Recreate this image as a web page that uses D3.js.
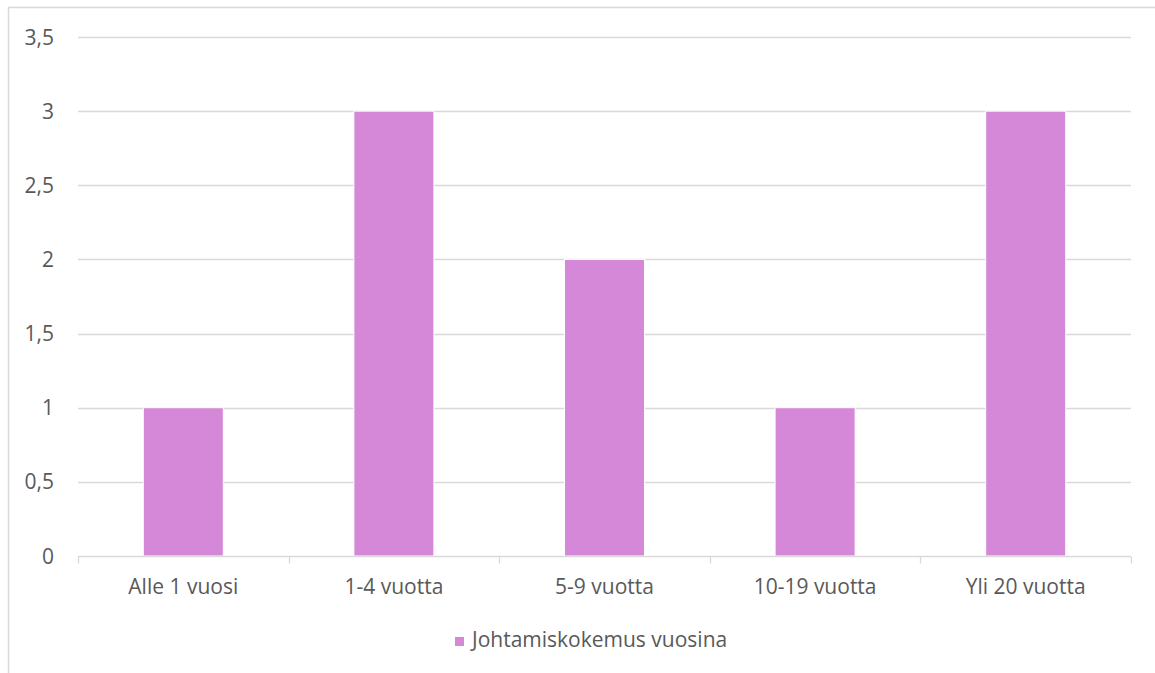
<!DOCTYPE html>
<html>
<head>
<meta charset="utf-8">
<script src="https://cdn.jsdelivr.net/npm/d3@7"></script>
<style>
  html, body { margin: 0; padding: 0; background: #fff; }
  svg { display: block; }
  text { font-family: "Open Sans", "Liberation Sans", sans-serif; fill: #595959; }
</style>
</head>
<body>
<svg id="chart" width="1155" height="673"></svg>
<script>
// Chart data
const categories = ["Alle 1 vuosi", "1-4 vuotta", "5-9 vuotta", "10-19 vuotta", "Yli 20 vuotta"];
const values = [1, 3, 2, 1, 3];
const seriesName = "Johtamiskokemus vuosina";
const yTicks = [0, 0.5, 1, 1.5, 2, 2.5, 3, 3.5];

const W = 1155, H = 673;
const margin = { left: 78, right: 24, top: 37, bottom: 117 };
const barColor = "#D588D8";
const fontSize = 21;

const svg = d3.select("#chart");

// chart area frame
svg.append("rect")
  .attr("x", 8.5).attr("y", 7.5)
  .attr("width", 1160).attr("height", 700)
  .attr("fill", "#fff").attr("stroke", "#d9d9d9").attr("stroke-width", 1.5);

const x = d3.scaleBand()
  .domain(categories)
  .range([margin.left, W - margin.right])
  .paddingInner(0.62).paddingOuter(0.31);

const y = d3.scaleLinear()
  .domain([0, 3.5])
  .range([H - margin.bottom, margin.top]);

// gridlines
svg.append("g")
  .selectAll("line")
  .data(yTicks.filter(d => d > 0))
  .join("line")
  .attr("x1", margin.left).attr("x2", W - margin.right)
  .attr("y1", d => Math.round(y(d)) + 0.5).attr("y2", d => Math.round(y(d)) + 0.5)
  .attr("stroke", "#d9d9d9").attr("stroke-width", 1.3);

// y axis labels
const yAxis = d3.axisLeft(y)
  .tickValues(yTicks)
  .tickSize(0)
  .tickPadding(0)
  .tickFormat(d => String(d).replace(".", ","));
const gy = svg.append("g")
  .attr("transform", `translate(${margin.left - 24},0)`)
  .call(yAxis);
gy.select(".domain").remove();
gy.selectAll("text")
  .attr("font-size", fontSize)
  .attr("font-family", null)
  .attr("fill", "#595959")
  .attr("dy", "0.34em");

// bars
svg.append("g")
  .selectAll("rect")
  .data(values)
  .join("rect")
  .attr("x", (d, i) => x(categories[i]))
  .attr("y", d => y(d))
  .attr("width", x.bandwidth())
  .attr("height", d => y(0) - y(d))
  .attr("fill", barColor)
  .attr("stroke", "#fff").attr("stroke-width", 1);

// x axis: baseline with category-boundary ticks
const x0 = margin.left, x1 = W - margin.right;
const step = (x1 - x0) / categories.length;
const base = Math.round(y(0)) + 0.5;
const gx = svg.append("g");
gx.append("line")
  .attr("x1", x0).attr("x2", x1)
  .attr("y1", base).attr("y2", base)
  .attr("stroke", "#d9d9d9").attr("stroke-width", 1.3);
gx.selectAll("line.tick")
  .data(d3.range(categories.length + 1))
  .join("line")
  .attr("class", "tick")
  .attr("x1", i => Math.round(x0 + i * step) + 0.5)
  .attr("x2", i => Math.round(x0 + i * step) + 0.5)
  .attr("y1", base).attr("y2", base + 7)
  .attr("stroke", "#d9d9d9").attr("stroke-width", 1.3);
gx.selectAll("text")
  .data(categories)
  .join("text")
  .attr("x", d => x(d) + x.bandwidth() / 2)
  .attr("y", 594)
  .attr("text-anchor", "middle")
  .attr("font-size", fontSize)
  .text(d => d);

// legend
const lg = svg.append("g").attr("transform", "translate(455,637)");
lg.append("rect").attr("width", 9).attr("height", 9).attr("fill", barColor);
lg.append("text")
  .attr("x", 17).attr("y", 10)
  .attr("font-size", fontSize)
  .text(seriesName);
</script>
</body>
</html>
